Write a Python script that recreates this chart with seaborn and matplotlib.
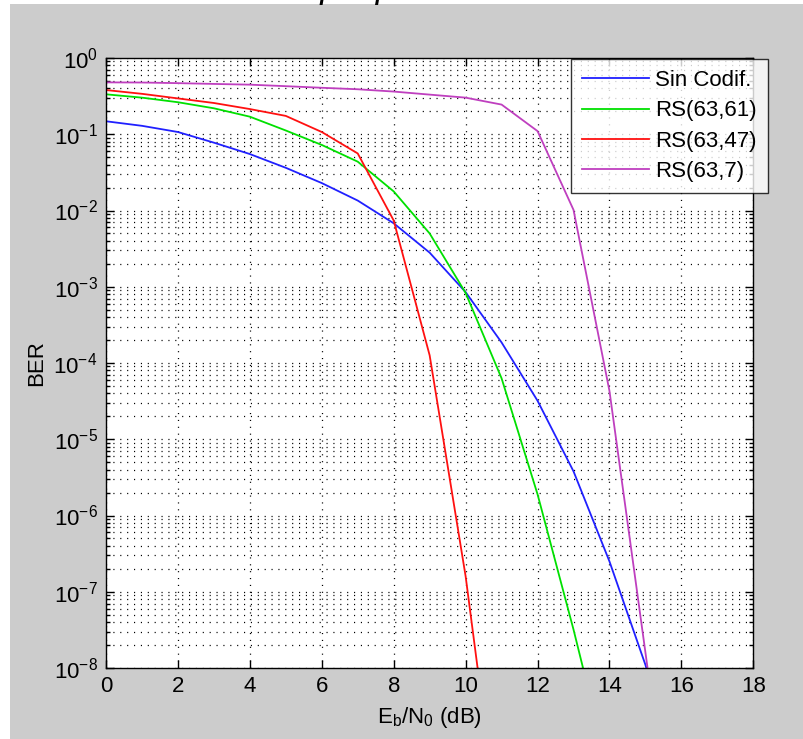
import matplotlib
matplotlib.use('Agg')
import matplotlib.pyplot as plt
from matplotlib.patches import Rectangle
from matplotlib.ticker import LogLocator, NullFormatter
import seaborn as sns
import pandas as pd

# Eb/N0 (dB) puntos de cada curva
ebn0_sin = [0, 1, 2, 3, 4, 5, 6, 7, 8, 9, 10, 11, 12, 13, 14, 15, 16]
ebn0_61 = [0, 1, 2, 3, 4, 5, 6, 7, 8, 9, 10, 11, 12, 13, 14]
ebn0_47 = [0, 1, 2, 3, 4, 5, 6, 7, 8, 9, 10, 10.5]
ebn0_7 = [0, 1, 2, 3, 4, 5, 6, 7, 8, 9, 10, 11, 12, 13, 14, 15, 16]

# BER
ber_sin = [0.148, 0.129, 0.107, 0.0776, 0.055, 0.0363, 0.0229, 0.0135, 6.8e-3,
           2.8e-3, 8.5e-4, 1.86e-4, 3.2e-5, 3.8e-6, 2.5e-7, 1.1e-8, 2.5e-10]
ber_61 = [0.334, 0.302, 0.263, 0.219, 0.17, 0.112, 0.0724, 0.0437, 0.0178,
          5.0e-3, 8.3e-4, 6.3e-5, 1.9e-6, 3.2e-8, 4e-10]
ber_47 = [0.38, 0.339, 0.295, 0.257, 0.214, 0.174, 0.107, 0.056, 7.4e-3,
          1.26e-4, 1.6e-7, 2.5e-9]
ber_7 = [0.479, 0.477, 0.468, 0.457, 0.447, 0.427, 0.407, 0.389, 0.363,
         0.331, 0.302, 0.245, 0.11, 0.0102, 4.3e-5, 1.6e-8, 6e-12]

labels = ['Sin Codif.', 'RS(63,61)', 'RS(63,47)', 'RS(63,7)']
colors = ['#2020ff', '#00e000', '#ff1010', '#bf3fbf']

frames = []
for lab, xs, ys in zip(labels, [ebn0_sin, ebn0_61, ebn0_47, ebn0_7],
                       [ber_sin, ber_61, ber_47, ber_7]):
    frames.append(pd.DataFrame({'EbN0': xs, 'BER': ys, 'Esquema': lab}))
df = pd.concat(frames, ignore_index=True)

plt.rcParams['font.family'] = ['Liberation Sans', 'DejaVu Sans']
plt.rcParams['mathtext.default'] = 'regular'
plt.rcParams['axes.unicode_minus'] = False

W, H = 804, 739
fig = plt.figure(figsize=(W / 100, H / 100), dpi=100, facecolor='white')
# fondo gris de la ventana de MATLAB
fig.add_artist(Rectangle((10 / W, 0), 1 - 10 / W, 735 / H, transform=fig.transFigure,
                         facecolor='#cccccc', edgecolor='none', zorder=-10))

ax = fig.add_axes([106 / W, 71 / H, 647.3 / W, 610 / H])
ax.set_facecolor('white')
ax.set_yscale('log')

sns.lineplot(data=df, x='EbN0', y='BER', hue='Esquema', hue_order=labels,
             palette=colors, estimator=None, sort=False, linewidth=1.3, ax=ax)

ax.set_xlim(0, 18)
ax.set_ylim(1e-8, 1)
ax.set_xticks(range(0, 19, 2))
ax.set_yticks([10.0 ** -k for k in range(0, 9)])
ax.yaxis.set_minor_locator(LogLocator(base=10, subs=range(2, 10), numticks=20))
ax.yaxis.set_minor_formatter(NullFormatter())

grid_style = dict(color='black', linestyle=(0, (0.9, 4.6)), linewidth=0.9)
ax.grid(True, which='major', axis='both', **grid_style)
ax.grid(True, which='minor', axis='y', **grid_style)
ax.set_axisbelow(True)

for s in ax.spines.values():
    s.set_linewidth(1.0)
    s.set_color('black')
ax.tick_params(which='both', direction='in', top=True, right=True, colors='black',
               labelsize=16, width=1.0)
ax.tick_params(which='major', length=6, pad=6)
ax.tick_params(which='minor', length=3)

ax.set_xlabel('$\\mathregular{E_b/N_0}$ (dB)', fontsize=16)
ax.set_ylabel('BER', fontsize=16)
ax.xaxis.set_label_coords(0.5, -0.06)
ax.yaxis.set_label_coords(-0.091, 0.5)

handles, _ = ax.get_legend_handles_labels()
leg = ax.legend(handles, labels, loc='upper right', bbox_to_anchor=(768 / W, 680 / H),
                bbox_transform=fig.transFigure, fontsize=16, frameon=True, fancybox=False,
                handlelength=3.0, labelspacing=0.42, borderpad=0.5, handletextpad=0.3,
                borderaxespad=0)
leg.get_frame().set_edgecolor('black')
leg.get_frame().set_linewidth(1.0)
for ln in leg.get_lines():
    ln.set_linewidth(1.3)

# titulo (queda cortado por el borde superior, como en la captura)
tfont = dict(fontsize=16, fontweight='bold', fontstyle='italic')
r = fig.canvas.get_renderer()
tmp = fig.text(0, 0, 'Probabilidad de error p', **tfont)
wpre = tmp.get_window_extent(r).width
tmp.remove()
fig.text((334 - wpre) / W, 1.0, 'Probabilidad de error por tipo de codificación',
         va='baseline', ha='left', **tfont)

fig.savefig('out.png', dpi=100, facecolor=fig.get_facecolor())
